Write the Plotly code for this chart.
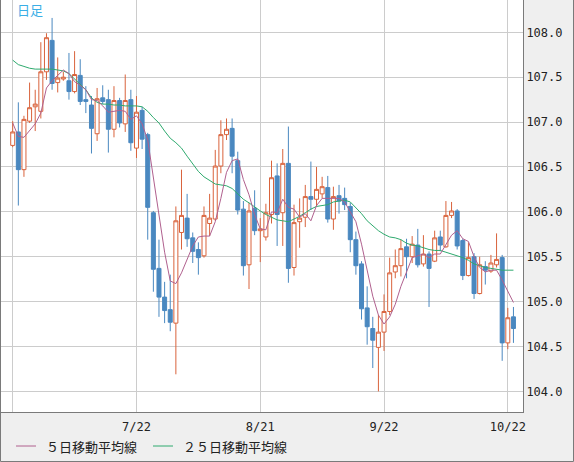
import pandas as pd
import plotly.graph_objects as go

# USD/JPY daily, 2020-06-22 .. 2020-10-23
dates = pd.bdate_range("2020-06-22", "2020-10-23").strftime("%Y-%m-%d").tolist()

opens = [
    106.74, 106.89, 106.47, 107.01, 107.17, 107.12, 107.56, 107.91, 107.44, 107.48,
    107.46, 107.34, 107.52, 107.25, 107.19, 106.87, 107.27, 107.25, 106.92, 107.24,
    106.98, 107.25, 106.71, 107.13, 106.86, 105.99, 105.37, 105.05, 104.91, 104.76,
    105.77, 105.93, 105.71, 105.58, 105.51, 105.87, 105.92, 106.51, 106.86, 106.93,
    106.57, 106.03, 105.41, 106.04, 105.79, 105.72, 105.97, 106.40, 105.99, 106.54,
    105.38, 105.89, 105.94, 106.17, 106.14, 106.20, 106.27, 105.92, 106.18, 106.15,
    106.06, 105.69, 105.42, 104.93, 104.70, 104.49, 104.66, 104.89, 105.33, 105.40,
    105.61, 105.50, 105.63, 105.42, 105.53, 105.45, 105.72, 105.61, 105.96, 106.01,
    105.68, 105.29, 105.50, 105.09, 105.39, 105.34, 105.41, 105.49, 104.54, 104.83,
]
highs = [
    107.01, 107.22, 107.07, 107.44, 107.36, 107.89, 107.99, 108.16, 107.72, 107.56,
    107.77, 107.79, 107.70, 107.40, 107.29, 107.38, 107.41, 107.36, 107.40, 107.27,
    107.53, 107.36, 107.29, 107.17, 106.88, 106.01, 105.69, 105.22, 105.30, 106.06,
    106.47, 106.20, 105.77, 105.66, 106.06, 106.20, 106.69, 107.02, 107.04, 107.04,
    106.67, 106.12, 106.10, 106.24, 105.93, 106.09, 106.57, 106.54, 106.70, 106.95,
    106.08, 106.15, 106.30, 106.56, 106.50, 106.39, 106.40, 106.28, 106.30, 106.27,
    106.10, 105.78, 105.45, 105.17, 104.83, 104.85, 105.08, 105.49, 105.58, 105.69,
    105.70, 105.73, 105.81, 105.74, 105.56, 105.79, 105.79, 106.12, 106.11, 106.03,
    105.70, 105.66, 105.54, 105.50, 105.45, 105.52, 105.76, 105.52, 104.93, 104.94,
]
lows = [
    106.72, 106.07, 106.39, 106.99, 106.90, 107.04, 107.47, 107.36, 107.33, 107.46,
    107.25, 107.32, 107.19, 107.10, 106.65, 106.79, 107.20, 106.66, 106.83, 106.94,
    106.89, 106.68, 106.60, 106.70, 105.69, 105.11, 104.83, 104.76, 104.67, 104.19,
    105.58, 105.61, 105.43, 105.30, 105.49, 105.73, 105.90, 106.43, 106.80, 106.43,
    105.97, 105.29, 105.14, 105.74, 105.44, 105.68, 105.87, 105.62, 105.62, 105.21,
    105.29, 105.60, 105.83, 106.02, 106.06, 106.15, 105.88, 105.80, 105.98, 106.02,
    105.55, 105.30, 104.80, 104.52, 104.26, 104.00, 104.45, 104.85, 105.26, 105.28,
    105.26, 105.43, 105.38, 105.39, 104.94, 105.44, 105.56, 105.60, 105.93, 105.58,
    105.24, 105.28, 105.03, 105.08, 105.19, 105.32, 105.38, 104.34, 104.47, 104.54,
]
closes = [
    106.89, 106.47, 107.03, 107.16, 107.20, 107.56, 107.94, 107.43, 107.49, 107.50,
    107.34, 107.53, 107.23, 107.23, 106.93, 107.26, 107.23, 106.92, 107.24, 106.99,
    107.24, 106.77, 107.11, 106.81, 106.05, 105.36, 105.05, 104.90, 104.77, 105.90,
    105.96, 105.70, 105.56, 105.49, 105.96, 105.93, 106.51, 106.86, 106.92, 106.62,
    106.02, 105.40, 106.01, 105.79, 105.81, 105.99, 106.38, 105.97, 106.54, 105.37,
    105.88, 105.93, 106.17, 106.14, 106.25, 106.28, 105.92, 106.17, 106.12, 106.08,
    105.69, 105.40, 104.92, 104.72, 104.57, 104.66, 104.89, 105.32, 105.40, 105.59,
    105.50, 105.64, 105.41, 105.53, 105.37, 105.71, 105.63, 105.96, 106.01, 105.62,
    105.29, 105.49, 105.09, 105.41, 105.35, 105.43, 105.47, 104.54, 104.82, 104.70,
]
ma5 = [
    106.99, 106.84, 106.83, 106.90, 106.98, 107.10, 107.38, 107.46, 107.52, 107.58,
    107.54, 107.45, 107.41, 107.36, 107.25, 107.24, 107.18, 107.11, 107.12, 107.13,
    107.12, 107.03, 107.07, 106.98, 106.80, 106.38, 106.00, 105.55, 105.23, 105.20,
    105.32, 105.47, 105.62, 105.72, 105.73, 105.73, 105.89, 106.15, 106.44, 106.57,
    106.59, 106.36, 106.19, 105.97, 105.81, 105.80, 106.00, 105.99, 106.14, 106.05,
    106.03, 105.94, 105.98, 105.90, 106.07, 106.15, 106.15, 106.15, 106.15, 106.11,
    106.00, 105.89, 105.64, 105.36, 105.06, 104.85, 104.75, 104.83, 104.97, 105.17,
    105.34, 105.49, 105.51, 105.53, 105.49, 105.53, 105.53, 105.64, 105.74, 105.79,
    105.70, 105.67, 105.50, 105.38, 105.33, 105.35, 105.35, 105.24, 105.12, 104.99,
]
ma25 = [
    107.69, 107.64, 107.62, 107.60, 107.59, 107.59, 107.59, 107.59, 107.58, 107.57,
    107.54, 107.48, 107.43, 107.36, 107.27, 107.22, 107.20, 107.20, 107.19, 107.19,
    107.18, 107.18, 107.18, 107.17, 107.12, 107.05, 106.99, 106.90, 106.82, 106.77,
    106.71, 106.62, 106.54, 106.45, 106.39, 106.35, 106.31, 106.30, 106.29, 106.26,
    106.20, 106.14, 106.10, 106.05, 106.01, 105.97, 105.94, 105.91, 105.90, 105.89,
    105.92, 105.95, 105.99, 106.03, 106.06, 106.07, 106.08, 106.11, 106.12, 106.13,
    106.11, 106.05, 105.98, 105.90, 105.84, 105.79, 105.75, 105.72, 105.71, 105.69,
    105.65, 105.63, 105.62, 105.60, 105.58, 105.57, 105.57, 105.55, 105.53, 105.51,
    105.49, 105.46, 105.42, 105.40, 105.38, 105.37, 105.36, 105.35, 105.35, 105.35,
]

tick_dates = ["2020-06-22", "2020-07-22", "2020-08-21", "2020-09-22", "2020-10-22"]
tick_text = ["", "7/22", "8/21", "9/22", "10/22"]

UP = "#d9633c"
DOWN = "#4a88c0"
MA5_COLOR = "#b0608e"
MA25_COLOR = "#2eaa6e"
GRID = "#cccccc"
FRAME = "#7a7a7a"
MONO = "DejaVu Sans Mono"
JP = "Noto Sans CJK JP"

W, H = 574, 462
L, R, T, B = 1, 51, 0, 50
PW, PH = W - L - R, H - T - B


def px_x(x):
    return (x - L) / PW


def px_y(y):
    return 1 - (y - T) / PH


fig = go.Figure()
fig.add_trace(go.Candlestick(
    x=dates, open=opens, high=highs, low=lows, close=closes,
    increasing=dict(line=dict(color=UP, width=1), fillcolor="white"),
    decreasing=dict(line=dict(color=DOWN, width=1), fillcolor=DOWN),
    whiskerwidth=0, showlegend=False,
))
fig.add_trace(go.Scatter(x=dates, y=ma25, mode="lines",
                         line=dict(color=MA25_COLOR, width=1), showlegend=False))
fig.add_trace(go.Scatter(x=dates, y=ma5, mode="lines",
                         line=dict(color=MA5_COLOR, width=1), showlegend=False))

# figure border (left, bottom, right)
for x0, y0, x1, y1 in [(0.5, 0, 0.5, H - 0.5), (0.5, H - 0.5, W - 0.5, H - 0.5),
                       (W - 0.5, 0, W - 0.5, H - 0.5)]:
    fig.add_shape(type="line", xref="paper", yref="paper",
                  x0=px_x(x0), y0=px_y(y0), x1=px_x(x1), y1=px_y(y1),
                  line=dict(color=FRAME, width=1))

# legend drawn by hand
legend_y = px_y(446)
for x0, color, label in [(16, MA5_COLOR, "５日移動平均線"), (153, MA25_COLOR, "２５日移動平均線")]:
    fig.add_shape(type="line", xref="paper", yref="paper",
                  x0=px_x(x0), x1=px_x(x0 + 20), y0=legend_y, y1=legend_y,
                  line=dict(color=color, width=1))
    fig.add_annotation(xref="paper", yref="paper", x=px_x(x0 + 28), y=legend_y,
                       text=label, showarrow=False, xanchor="left", yanchor="middle",
                       font=dict(family=JP, size=13, color="#222222"))

fig.add_annotation(xref="paper", yref="paper", x=px_x(15), y=px_y(10),
                   text="日足", showarrow=False, xanchor="left", yanchor="middle",
                   font=dict(family=JP, size=13, color="#3aaee6"))

fig.update_layout(
    width=W, height=H,
    margin=dict(l=L, r=R, t=T, b=B),
    paper_bgcolor="#efefef", plot_bgcolor="white",
    boxgap=0.29, boxgroupgap=0,
    showlegend=False,
)
fig.update_xaxes(
    type="category", range=[-2.08, 90.7],
    tickvals=tick_dates, ticktext=tick_text,
    showgrid=True, gridcolor=GRID, gridwidth=1,
    showline=True, linecolor=FRAME, linewidth=1,
    ticks="", ticklabelstandoff=4,
    tickfont=dict(family=MONO, size=12, color="#222222"),
    rangeslider_visible=False, fixedrange=True,
)
fig.update_yaxes(
    side="right", range=[103.77, 108.36],
    tick0=104, dtick=0.5, tickformat=".1f",
    showgrid=True, gridcolor=GRID, gridwidth=1,
    showline=True, linecolor=FRAME, linewidth=1,
    ticks="", zeroline=False,
    tickfont=dict(family=MONO, size=12, color="#222222"),
    fixedrange=True,
)

# drop the page's default body margin so the figure sits at the window corner
fig.write_html("out.html", config={"displayModeBar": False},
               post_script="document.body.style.margin = '0';")
